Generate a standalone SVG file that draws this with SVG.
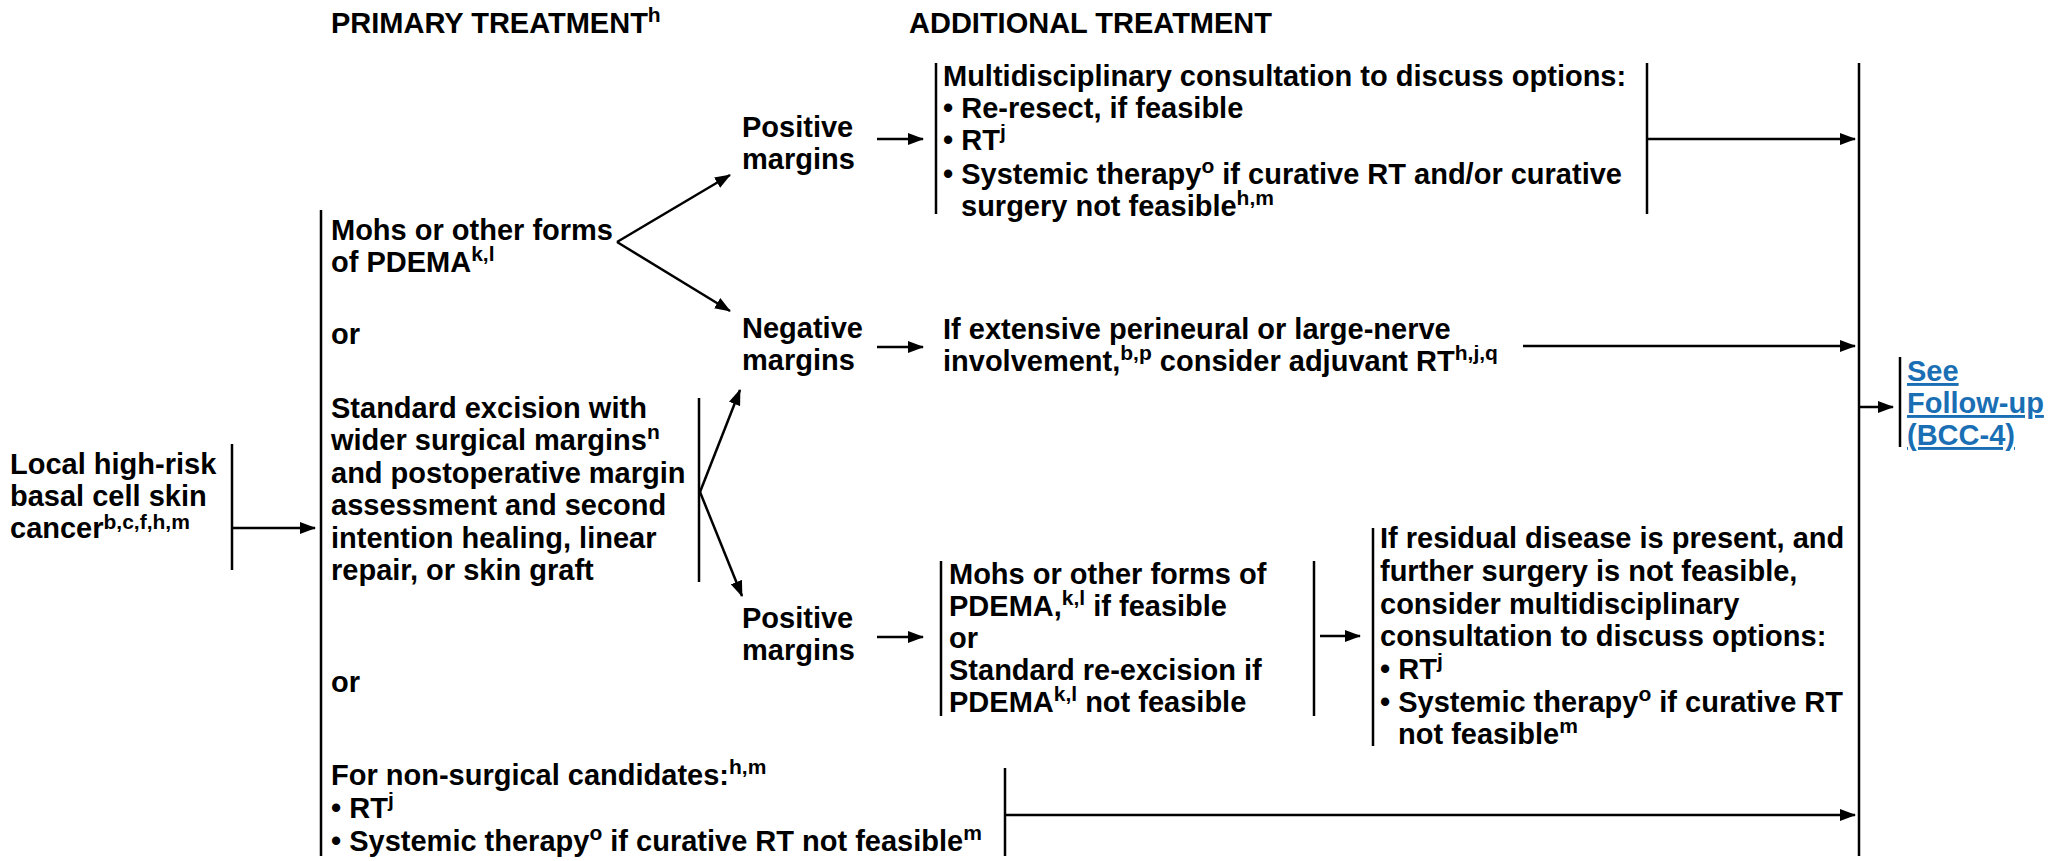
<svg xmlns="http://www.w3.org/2000/svg" width="2059" height="861" viewBox="0 0 2059 861">
<defs>
<marker id="ah" markerWidth="16" markerHeight="12" refX="15" refY="6" orient="auto" markerUnits="userSpaceOnUse"><path d="M0,0 L16,6 L0,12 z" fill="#000"/></marker>
</defs>
<style>
text{font-family:"Liberation Sans",Arial,Helvetica,sans-serif;font-weight:bold;font-size:29px;fill:#000}
.s{font-size:21px}
.bar{stroke:#000;stroke-width:2.5;fill:none}
.c{stroke:#000;stroke-width:2.5;fill:none;marker-end:url(#ah)}
.lnk{fill:#1a6fb4;text-decoration:underline}
</style>
<rect width="2059" height="861" fill="#fff"/>

<g id="headers">
<text x="331" y="33">PRIMARY TREATMENT<tspan class="s" dy="-11">h</tspan></text>
<text x="909" y="33">ADDITIONAL TREATMENT</text>
</g>

<g id="n-start">
<text x="10" y="474">Local high-risk</text>
<text x="10" y="506">basal cell skin</text>
<text x="10" y="538">cancer<tspan class="s" dy="-9">b,c,f,h,m</tspan></text>
<line class="bar" x1="232" y1="444" x2="232" y2="570"/>
</g>

<g id="n-primary">
<line class="bar" x1="321" y1="210" x2="321" y2="856"/>
<text x="331" y="240">Mohs or other forms</text>
<text x="331" y="272">of PDEMA<tspan class="s" dy="-11">k,l</tspan></text>
<text x="331" y="344">or</text>
<text x="331" y="692">or</text>
</g>

<g id="n-std">
<text x="331" y="418">Standard excision with</text>
<text x="331" y="450">wider surgical margins<tspan class="s" dy="-11">n</tspan></text>
<text x="331" y="483">and postoperative margin</text>
<text x="331" y="515">assessment and second</text>
<text x="331" y="548">intention healing, linear</text>
<text x="331" y="580">repair, or skin graft</text>
<line class="bar" x1="699" y1="398" x2="699" y2="582"/>
</g>

<g id="n-nonsurg">
<text x="331" y="785">For non-surgical candidates:<tspan class="s" dy="-11">h,m</tspan></text>
<text x="331" y="818">• RT<tspan class="s" dy="-11">j</tspan></text>
<text x="331" y="851">• Systemic therapy<tspan class="s" dy="-11">o</tspan><tspan dy="11"> if curative RT not feasible</tspan><tspan class="s" dy="-11">m</tspan></text>
<line class="bar" x1="1005" y1="768" x2="1005" y2="856"/>
</g>

<g id="n-pos1">
<text x="742" y="137">Positive</text>
<text x="742" y="169">margins</text>
</g>

<g id="n-neg">
<text x="742" y="338">Negative</text>
<text x="742" y="370">margins</text>
</g>

<g id="n-pos2">
<text x="742" y="628">Positive</text>
<text x="742" y="660">margins</text>
</g>

<g id="n-multi">
<line class="bar" x1="936" y1="63" x2="936" y2="214"/>
<text x="943" y="86">Multidisciplinary consultation to discuss options:</text>
<text x="943" y="118">• Re-resect, if feasible</text>
<text x="943" y="150">• RT<tspan class="s" dy="-11">j</tspan></text>
<text x="943" y="184">• Systemic therapy<tspan class="s" dy="-11">o</tspan><tspan dy="11"> if curative RT and/or curative</tspan></text>
<text x="961" y="216">surgery not feasible<tspan class="s" dy="-11">h,m</tspan></text>
<line class="bar" x1="1647" y1="63" x2="1647" y2="214"/>
</g>

<g id="n-adjuvant">
<text x="943" y="339">If extensive perineural or large-nerve</text>
<text x="943" y="371">involvement,<tspan class="s" dy="-11">b,p</tspan><tspan dy="11"> consider adjuvant RT</tspan><tspan class="s" dy="-11">h,j,q</tspan></text>
</g>

<g id="n-reexc">
<line class="bar" x1="941" y1="561" x2="941" y2="716"/>
<text x="949" y="584">Mohs or other forms of</text>
<text x="949" y="616">PDEMA,<tspan class="s" dy="-11">k,l</tspan><tspan dy="11"> if feasible</tspan></text>
<text x="949" y="648">or</text>
<text x="949" y="680">Standard re-excision if</text>
<text x="949" y="712">PDEMA<tspan class="s" dy="-11">k,l</tspan><tspan dy="11"> not feasible</tspan></text>
<line class="bar" x1="1314" y1="561" x2="1314" y2="716"/>
</g>

<g id="n-residual">
<line class="bar" x1="1373" y1="528" x2="1373" y2="746"/>
<text x="1380" y="548">If residual disease is present, and</text>
<text x="1380" y="581">further surgery is not feasible,</text>
<text x="1380" y="614">consider multidisciplinary</text>
<text x="1380" y="646">consultation to discuss options:</text>
<text x="1380" y="679">• RT<tspan class="s" dy="-11">j</tspan></text>
<text x="1380" y="712">• Systemic therapy<tspan class="s" dy="-11">o</tspan><tspan dy="11"> if curative RT</tspan></text>
<text x="1398" y="744">not feasible<tspan class="s" dy="-11">m</tspan></text>
</g>

<g id="n-collector">
<line class="bar" x1="1859" y1="63" x2="1859" y2="856"/>
</g>

<g id="n-followup">
<line class="bar" x1="1900" y1="357" x2="1900" y2="447"/>
<text class="lnk" x="1907" y="381">See</text>
<text class="lnk" x="1907" y="413">Follow-up</text>
<text class="lnk" x="1907" y="445">(BCC-4)</text>
</g>

<g id="connectors">
<path class="c" d="M232,528 H315"/>
<path class="c" d="M617,242 L730,175"/>
<path class="c" d="M617,242 L730,311"/>
<path class="c" d="M700,492 L740,390"/>
<path class="c" d="M700,492 L742,596"/>
<path class="c" d="M877,139 H923"/>
<path class="c" d="M877,347 H923"/>
<path class="c" d="M877,637 H923"/>
<path class="c" d="M1647,139 H1855"/>
<path class="c" d="M1523,346 H1855"/>
<path class="c" d="M1005,815 H1855"/>
<path class="c" d="M1320,636 H1360"/>
<path class="c" d="M1859,407 H1893"/>
</g>
</svg>
